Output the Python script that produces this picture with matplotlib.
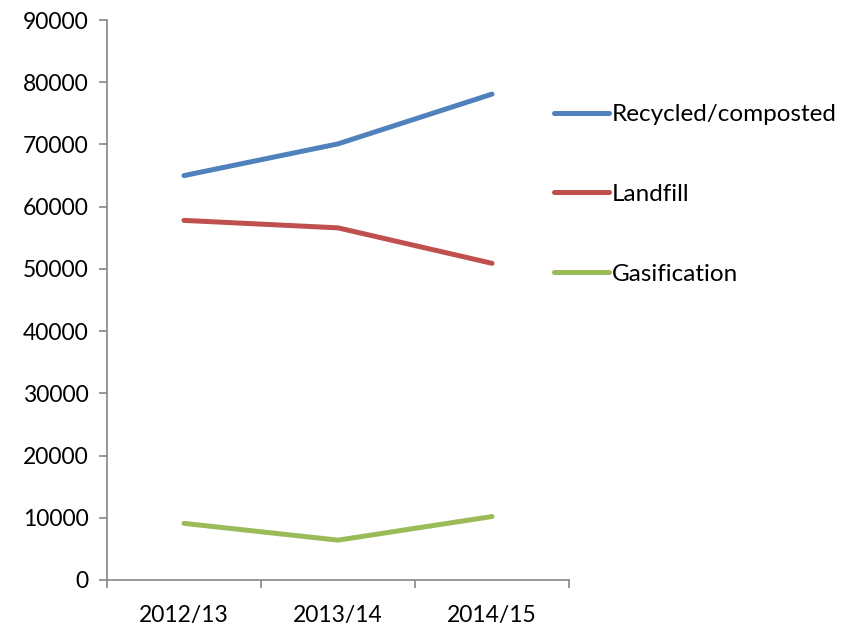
import matplotlib.pyplot as plt

# Données : tonnes de déchets par filière et par année
years = ['2012/13', '2013/14', '2014/15']
recycled = [65000, 70100, 78100]
landfill = [57800, 56600, 50900]
gasification = [9100, 6400, 10200]

plt.rcParams['font.family'] = ['Lato', 'DejaVu Sans']

fig = plt.figure(figsize=(8.41, 6.27), dpi=100)
ax = fig.add_axes([0.1272, 0.075, 0.5494, 0.893])

x = range(len(years))
ax.plot(x, recycled, color='#4F81BD', lw=3.6, solid_capstyle='round', label='Recycled/composted')
ax.plot(x, landfill, color='#C0504D', lw=3.6, solid_capstyle='round', label='Landfill')
ax.plot(x, gasification, color='#9BBB59', lw=3.6, solid_capstyle='round', label='Gasification')

# Axes façon tableur
ax.set_xlim(-0.5, 2.5)
ax.set_ylim(0, 90000)
ax.set_yticks(range(0, 90001, 10000))
ax.set_xticks([-0.5, 0.5, 1.5, 2.5])
ax.set_xticklabels([])
ax.set_xticks(list(x), minor=True)
ax.set_xticklabels(years, minor=True)
ax.tick_params(axis='x', which='minor', length=0, pad=18, labelsize=16.5)
ax.tick_params(axis='x', which='major', length=6, width=1.2, color='#868686', direction='out')
ax.tick_params(axis='y', length=6, width=1.2, color='#868686', direction='out', labelsize=16.5, pad=7)
for side in ['top', 'right']:
    ax.spines[side].set_visible(False)
for side in ['left', 'bottom']:
    ax.spines[side].set_color('#868686')
    ax.spines[side].set_linewidth(1.2)

leg = fig.legend(loc='upper left', bbox_to_anchor=(0.6587, 0.834), frameon=False,
                 fontsize=17.5, handlelength=2.26, handletextpad=0.12, labelspacing=2.42,
                 borderpad=0, borderaxespad=0)

fig.savefig('out.png', dpi=100)
